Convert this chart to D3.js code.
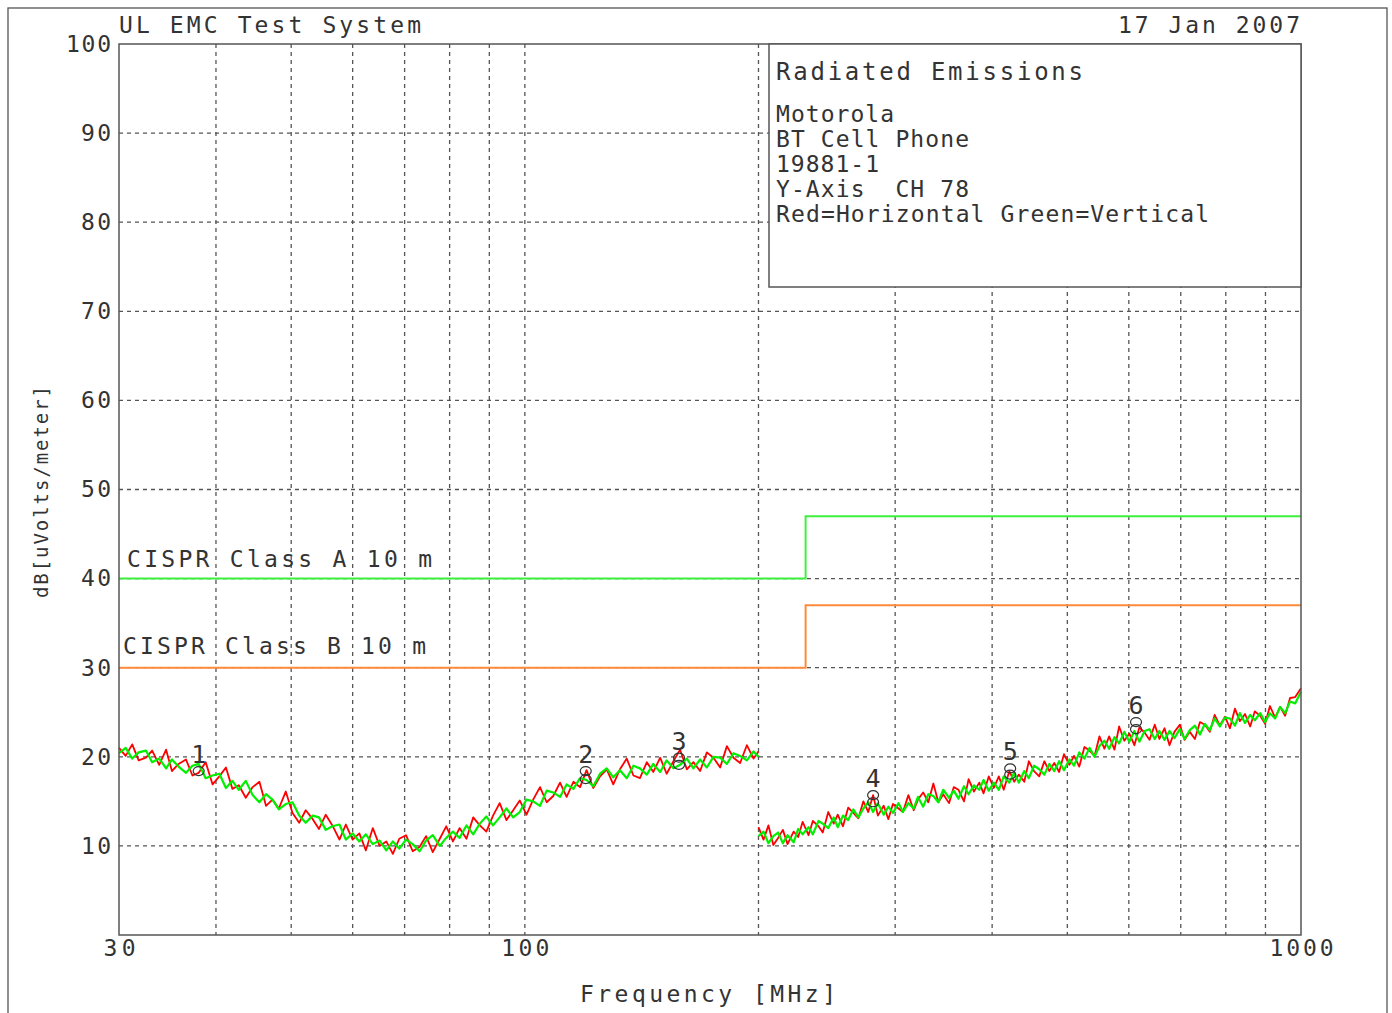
<!DOCTYPE html>
<html>
<head>
<meta charset="utf-8">
<title>Radiated Emissions</title>
<script src="https://d3js.org/d3.v7.min.js"></script>
<style>
  body { margin: 0; background: #fff; }
  svg text { font-family: "DejaVu Sans Mono", monospace; fill: #333; }
</style>
</head>
<body>
<svg id="chart"></svg>
<script>
// ---- data ----
const yTicks = [10, 20, 30, 40, 50, 60, 70, 80, 90, 100];
const xTickLabels = [30, 100, 1000];
const gridFreqs = [40, 50, 60, 70, 80, 90, 100, 200, 300, 400, 500, 600, 700, 800, 900];

// limit lines (MHz, dBuV/m)
const limitFreqs = [30, 230, 230, 1000];
const classA = [40, 40, 47, 47];
const classB = [30, 30, 37, 37];

// scan 1: 30 - 200 MHz
const seg1Freq = [
  30.0, 30.6, 31.2, 31.8, 32.5, 33.1, 33.8, 34.5, 35.1, 35.8,
  36.6, 37.3, 38.0, 38.8, 39.6, 40.4, 41.2, 42.0, 42.8, 43.7,
  44.6, 45.5, 46.4, 47.3, 48.2, 49.2, 50.2, 51.2, 52.2, 53.3,
  54.3, 55.4, 56.5, 57.7, 58.8, 60.0, 61.2, 62.4, 63.7, 65.0,
  66.3, 67.6, 68.9, 70.3, 71.7, 73.2, 74.6, 76.1, 77.7, 79.2,
  80.8, 82.4, 84.1, 85.8, 87.5, 89.2, 91.0, 92.8, 94.7, 96.6,
  98.5, 100.5, 102.5, 104.6, 106.7, 108.8, 111.0, 113.2, 115.5, 117.8,
  120.1, 122.5, 125.0, 127.5, 130.0, 132.6, 135.3, 138.0, 140.7, 143.6,
  146.4, 149.4, 152.3, 155.4, 158.5, 161.7, 164.9, 168.2, 171.6, 175.0,
  178.5, 182.1, 185.7, 189.4, 193.2, 197.1, 200.0
];
const seg1Red = [
  21.0, 20.1, 21.4, 19.6, 19.9, 20.7, 19.1, 20.8, 18.4, 19.2,
  19.7, 17.9, 18.2, 19.4, 16.9, 17.8, 18.8, 16.4, 16.8, 15.4,
  16.6, 17.2, 14.5, 15.2, 14.2, 16.1, 13.7, 12.6, 14.0, 13.0,
  11.9, 13.5, 12.3, 10.7, 12.4, 10.7, 11.4, 9.5, 12.0, 10.0,
  10.5, 9.1, 10.8, 11.2, 9.4, 9.9, 11.1, 9.3, 10.8, 12.2,
  10.5, 12.0, 10.8, 13.2, 12.3, 11.6, 13.4, 14.8, 12.9, 14.0,
  15.1, 13.5, 15.2, 16.6, 14.9, 15.6, 17.1, 15.5, 17.2, 16.6,
  18.5, 16.5, 17.8, 18.6, 16.9, 18.6, 19.8, 17.9, 17.6, 19.4,
  18.3, 19.9, 18.1, 19.5, 20.8, 18.6, 19.4, 18.4, 20.5, 19.9,
  18.8, 21.2, 19.9, 19.3, 21.3, 19.8, 20.6
];
const seg1Green = [
  20.4, 21.0, 19.8, 20.5, 20.7, 19.4, 19.8, 18.7, 19.7, 18.9,
  18.2, 19.0, 19.2, 17.6, 17.9, 18.1, 16.5, 17.3, 16.3, 17.3,
  15.7, 14.9, 15.8, 15.2, 14.1, 14.7, 14.9, 13.4, 12.6, 13.4,
  13.2, 11.8, 12.2, 12.4, 10.7, 11.4, 10.5, 11.3, 10.2, 10.6,
  9.5, 10.5, 9.7, 10.7, 10.2, 9.4, 10.6, 11.2, 10.0, 10.9,
  11.6, 10.9, 12.3, 11.3, 12.5, 13.3, 12.3, 13.2, 14.2, 13.2,
  13.8, 15.2, 15.0, 14.5, 16.2, 16.0, 15.5, 16.9, 16.4, 17.6,
  17.4, 16.7, 18.1, 18.7, 17.7, 18.5, 17.6, 19.0, 18.7, 18.0,
  19.2, 18.3, 19.6, 18.7, 19.1, 19.8, 18.7, 19.7, 18.8, 20.0,
  19.9, 19.2, 20.4, 20.1, 19.6, 20.6, 20.0
];

// scan 2: 200 - 1000 MHz
const seg2Freq = [
  200, 203, 206, 209, 212, 215, 218, 222, 225, 228,
  232, 235, 239, 242, 246, 250, 253, 257, 261, 265,
  269, 273, 277, 281, 285, 290, 294, 298, 303, 307,
  312, 317, 321, 326, 331, 336, 341, 346, 352, 357,
  362, 368, 373, 379, 385, 390, 396, 402, 408, 414,
  421, 427, 433, 440, 446, 453, 460, 467, 474, 481,
  488, 495, 503, 510, 518, 526, 534, 542, 550, 558,
  566, 575, 583, 592, 601, 610, 619, 629, 638, 648,
  657, 667, 677, 687, 698, 708, 719, 730, 741, 752,
  763, 774, 786, 798, 810, 822, 834, 847, 860, 872,
  886, 899, 912, 926, 940, 954, 968, 983, 1000
];
const seg2Red = [
  12.1, 10.7, 12.3, 10.1, 10.9, 11.8, 10.2, 11.6, 11.0, 12.7,
  11.2, 12.8, 12.2, 11.5, 13.8, 12.5, 13.5, 12.2, 14.3, 13.7,
  13.1, 15.0, 13.8, 15.7, 13.4, 14.5, 13.0, 14.7, 14.2, 13.8,
  15.7, 14.0, 15.2, 16.0, 14.9, 17.0, 14.9, 15.8, 14.8, 16.6,
  16.3, 15.0, 17.5, 16.1, 17.1, 15.9, 17.8, 16.5, 17.8, 16.3,
  18.4, 17.2, 18.0, 17.2, 19.5, 18.4, 17.8, 19.5, 18.4, 19.3,
  18.3, 20.3, 19.1, 20.1, 18.9, 21.1, 20.7, 20.1, 22.3, 20.9,
  22.3, 20.8, 23.4, 21.8, 22.6, 21.3, 23.3, 22.7, 21.9, 23.6,
  22.0, 23.2, 21.3, 22.8, 23.6, 21.9, 22.8, 22.0, 23.9, 23.6,
  22.8, 24.7, 23.5, 24.5, 23.2, 25.4, 24.0, 24.8, 23.4, 25.1,
  24.6, 23.7, 25.7, 24.4, 25.6, 24.6, 26.6, 26.7, 27.7
];
const seg2Green = [
  11.1, 11.6, 10.3, 11.1, 11.5, 10.3, 11.2, 10.4, 11.9, 11.3,
  12.1, 11.3, 12.8, 12.5, 12.0, 13.2, 12.1, 13.4, 12.9, 14.1,
  13.2, 14.2, 14.9, 13.8, 14.8, 13.5, 14.4, 13.7, 14.8, 13.8,
  14.8, 14.2, 15.5, 14.4, 15.8, 15.6, 14.9, 16.3, 15.4, 16.2,
  15.3, 16.7, 15.8, 16.8, 16.3, 17.4, 16.2, 17.1, 16.3, 17.8,
  17.1, 18.2, 17.1, 18.4, 17.6, 19.0, 18.6, 18.0, 19.2, 18.4,
  19.5, 18.5, 19.7, 19.0, 20.5, 19.8, 21.0, 20.0, 21.2, 21.8,
  20.9, 22.2, 21.5, 22.8, 21.7, 22.9, 21.7, 22.9, 23.1, 22.0,
  22.9, 21.9, 22.9, 22.1, 23.1, 22.0, 23.0, 23.5, 22.5, 23.7,
  23.0, 24.3, 23.4, 24.4, 24.3, 23.5, 24.9, 23.8, 24.7, 24.1,
  24.9, 23.9, 24.9, 24.3, 25.6, 24.9, 26.2, 26.0, 27.3
];

// peak markers
const markerNames = ["1", "2", "3", "4", "5", "6"];
const markerFreqs = [38.0, 119.8, 158, 281, 422, 613];
const markerUpper = [18.4, 18.4, 19.9, 15.7, 18.7, 23.9];
const markerLower = [null, 17.5, 19.1, 14.9, 18.0, 23.1];

const infoLines = ["Motorola", "BT Cell Phone", "19881-1", "Y-Axis  CH 78", "Red=Horizontal Green=Vertical"];

// ---- drawing ----
const width = 1392, height = 1013;
const plot = { left: 119, right: 1301, top: 44, bottom: 935 };

const svg = d3.select("#chart").attr("width", width).attr("height", height);

const x = d3.scaleLog().domain([30, 1000]).range([plot.left, plot.right]);
const y = d3.scaleLinear().domain([0, 100]).range([plot.bottom, plot.top]);

// outer frame
svg.append("rect")
  .attr("x", 8).attr("y", 8).attr("width", 1379).attr("height", 1020)
  .attr("fill", "none").attr("stroke", "#555").attr("stroke-width", 1.3);

// grid
const grid = svg.append("g").attr("stroke", "#555").attr("stroke-width", 1.3)
  .attr("stroke-dasharray", "4,4");
grid.selectAll("line.v").data(gridFreqs).join("line")
  .attr("x1", d => x(d)).attr("x2", d => x(d))
  .attr("y1", plot.top).attr("y2", plot.bottom);
grid.selectAll("line.h").data(yTicks.filter(d => d < 100)).join("line")
  .attr("x1", plot.left).attr("x2", plot.right)
  .attr("y1", d => y(d)).attr("y2", d => y(d));

// y tick labels
const yAxis = svg.append("g")
  .attr("transform", `translate(${plot.left},0)`)
  .call(d3.axisLeft(y).tickValues(yTicks).tickSize(0).tickPadding(8));
yAxis.select(".domain").remove();
yAxis.selectAll("text")
  .style("font-family", '"DejaVu Sans Mono", monospace')
  .style("font-size", "23px").attr("fill", "#333")
  .attr("textLength", d => d === 100 ? 45 : 30).attr("lengthAdjust", "spacing");

// x tick labels
const xAxis = svg.append("g")
  .attr("transform", `translate(0,${plot.bottom})`)
  .call(d3.axisBottom(x).tickValues(xTickLabels).tickFormat(d3.format("d")).tickSize(0).tickPadding(5));
xAxis.select(".domain").remove();
xAxis.selectAll("text")
  .style("font-family", '"DejaVu Sans Mono", monospace')
  .style("font-size", "23px").attr("fill", "#333")
  .attr("textLength", d => String(d).length * 16).attr("lengthAdjust", "spacing");

// limit lines
const limitLine = vals => d3.line()
  .x((d, i) => x(limitFreqs[i]))
  .y((d, i) => y(vals[i]))(vals);
svg.append("path").attr("d", limitLine(classA))
  .attr("fill", "none").attr("stroke", "#3ef03e").attr("stroke-width", 2);
svg.append("path").attr("d", limitLine(classB))
  .attr("fill", "none").attr("stroke", "#ff8a3a").attr("stroke-width", 2);

svg.append("text").attr("x", 127).attr("y", y(40) - 12)
  .attr("textLength", 305).attr("lengthAdjust", "spacing")
  .style("font-size", "23px").attr("fill", "#2ee62e").text("CISPR Class A 10 m");
svg.append("text").attr("x", 123).attr("y", y(30) - 14)
  .attr("textLength", 303).attr("lengthAdjust", "spacing")
  .style("font-size", "23px").attr("fill", "#ff8030").text("CISPR Class B 10 m");

// traces
function trace(freqs, vals, color, w) {
  const line = d3.line().x((d, i) => x(freqs[i])).y(d => y(d));
  svg.append("path").attr("d", line(vals))
    .attr("fill", "none").attr("stroke", color).attr("stroke-width", w)
    .attr("stroke-linejoin", "round");
}
trace(seg1Freq, seg1Red, "#ff0000", 1.8);
trace(seg2Freq, seg2Red, "#ff0000", 1.8);
trace(seg1Freq, seg1Green, "#00f000", 2.2);
trace(seg2Freq, seg2Green, "#00f000", 2.2);

// markers
const mk = svg.append("g");
markerNames.forEach((name, i) => {
  const cx = x(markerFreqs[i]);
  [markerUpper[i], markerLower[i]].forEach(v => {
    if (v === null) return;
    mk.append("ellipse").attr("cx", cx).attr("cy", y(v))
      .attr("rx", 5.5).attr("ry", 4.5)
      .attr("fill", "none").attr("stroke", "#333").attr("stroke-width", 1.2);
  });
  mk.append("text").attr("x", cx).attr("y", y(markerUpper[i]) - 8)
    .attr("text-anchor", "middle").style("font-size", "25px").text(name);
});

// plot frame
svg.append("rect")
  .attr("x", plot.left).attr("y", plot.top)
  .attr("width", plot.right - plot.left).attr("height", plot.bottom - plot.top)
  .attr("fill", "none").attr("stroke", "#555").attr("stroke-width", 1.5);

// info box
svg.append("rect")
  .attr("x", 769).attr("y", plot.top).attr("width", plot.right - 769).attr("height", 243)
  .attr("fill", "#fff").attr("stroke", "#555").attr("stroke-width", 1.5);
svg.append("text").attr("x", 776).attr("y", 80)
  .attr("textLength", 307).attr("lengthAdjust", "spacing")
  .style("font-size", "24px").text("Radiated Emissions");
svg.selectAll("text.info").data(infoLines).join("text")
  .attr("class", "info")
  .attr("x", 776).attr("y", (d, i) => 122 + i * 25)
  .attr("textLength", d => d.length * 15 - 2).attr("lengthAdjust", "spacing")
  .style("font-size", "23px").style("white-space", "pre")
  .text(d => d);

// titles
svg.append("text").attr("x", 119).attr("y", 33)
  .attr("textLength", 302).attr("lengthAdjust", "spacing")
  .style("font-size", "23px").text("UL EMC Test System");
svg.append("text").attr("x", 1300).attr("y", 33).attr("text-anchor", "end")
  .attr("textLength", 182).attr("lengthAdjust", "spacing")
  .style("font-size", "23px").text("17 Jan 2007");

svg.append("text").attr("x", 708).attr("y", 1002).attr("text-anchor", "middle")
  .attr("textLength", 256).attr("lengthAdjust", "spacing")
  .style("font-size", "23px").text("Frequency [MHz]");

svg.append("text")
  .attr("transform", "translate(48,492) rotate(-90)")
  .attr("text-anchor", "middle")
  .attr("textLength", 212).attr("lengthAdjust", "spacing")
  .style("font-size", "19px").text("dB[uVolts/meter]");
</script>
</body>
</html>
